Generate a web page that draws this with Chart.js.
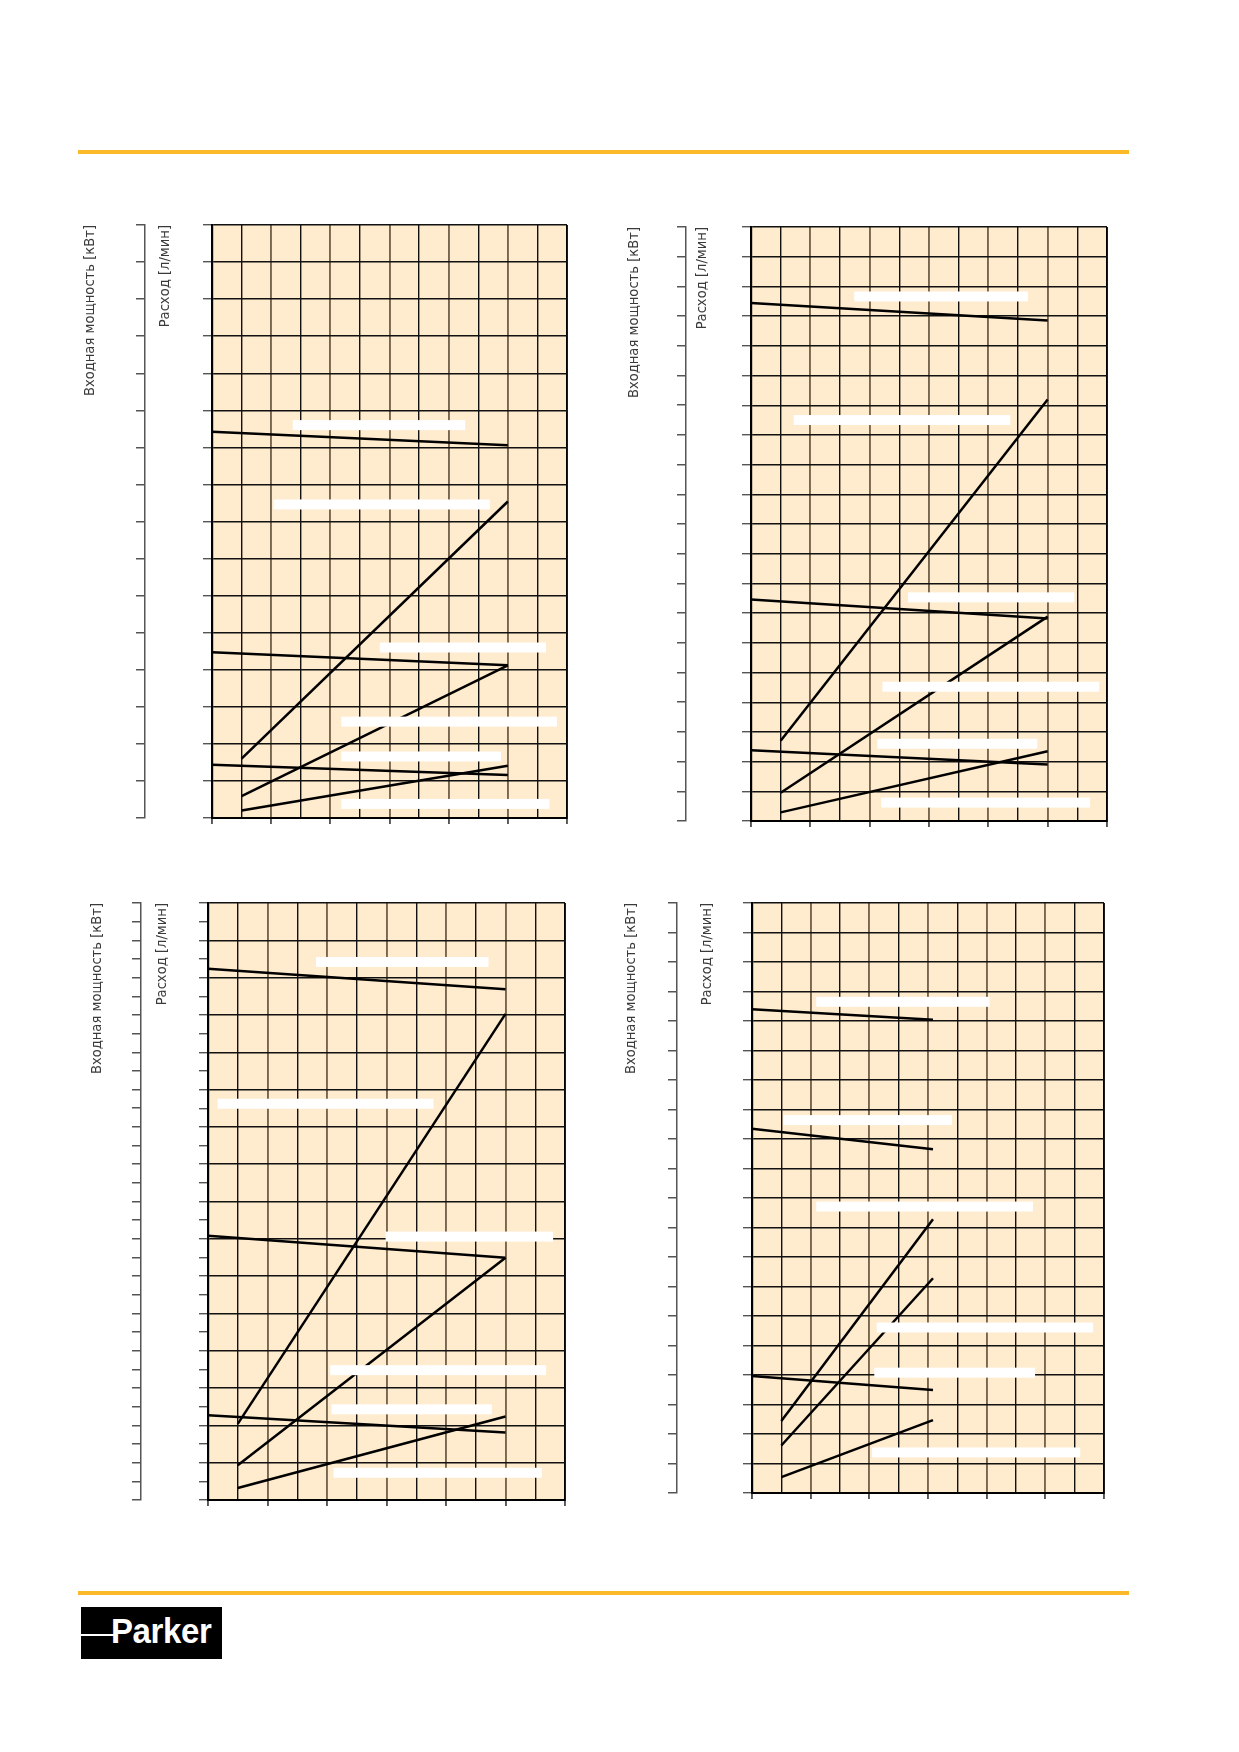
<!DOCTYPE html>
<html>
<head>
<meta charset="utf-8">
<script src="https://cdn.jsdelivr.net/npm/chart.js@4.4.1/dist/chart.umd.min.js"></script>
<style>
  html, body { margin: 0; padding: 0; background: #fff; }
  body { position: relative; width: 1239px; height: 1752px; overflow: hidden; }
  canvas { position: absolute; }
  .rule { position: absolute; left: 78px; width: 1051px; height: 4px; background: #fbb829; }
  #logo { position: absolute; left: 81px; top: 1607px; width: 141px; height: 52px; background: #000; overflow: hidden; }
  #logo-dash { position: absolute; left: 0; top: 27px; width: 34px; height: 2px; background: #fff; }
  #logo-word { position: absolute; left: 30px; top: 6px; color: #fff; font: bold 33px 'Liberation Sans', Arial, sans-serif; line-height: 38px; letter-spacing: -0.4px; transform: scaleY(1.05); transform-origin: 0 100%; }
</style>
</head>
<body>
<div class="rule" style="top:150px"></div>
<div class="rule" style="top:1591px"></div>

<canvas id="chartTL"></canvas>
<canvas id="chartTR"></canvas>
<canvas id="chartBL"></canvas>
<canvas id="chartBR"></canvas>

<div id="logo"><div id="logo-dash"></div><span id="logo-word">Parker</span></div>

<script>
// values are in grid units: x = column (0..12), y = row counted from the bottom
const powerTitle = 'Входная мощность [кВт]';
const flowTitle = 'Расход [л/мин]';
const xMax = 12;

// top left
const tlRows = 16;
const tlLines = [
  [[0, 10.42], [10, 10.06]],
  [[1, 1.6], [10, 8.54]],
  [[0, 4.47], [10, 4.12]],
  [[1, 0.59], [10, 4.12]],
  [[0, 1.44], [10, 1.16]],
  [[1, 0.2], [10, 1.41]]
];
// blanked label strips: x from, x to, y
const tlMasks = [
  [2.73, 8.56, 10.6],
  [2.08, 9.39, 8.46],
  [5.67, 11.29, 4.6],
  [4.37, 11.66, 2.6],
  [4.37, 9.77, 1.66],
  [4.37, 11.41, 0.38]
];

// top right
const trRows = 20;
const trLines = [
  [[0, 17.44], [10, 16.85]],
  [[1, 2.7], [10, 14.19]],
  [[0, 7.46], [10, 6.82]],
  [[1, 0.95], [10, 6.88]],
  [[0, 2.38], [10, 1.9]],
  [[1, 0.29], [10, 2.35]]
];
const trMasks = [
  [3.48, 9.34, 17.66],
  [1.44, 8.74, 13.5],
  [5.29, 10.9, 7.53],
  [4.43, 11.74, 4.52],
  [4.26, 9.65, 2.6],
  [4.39, 11.43, 0.62]
];

// bottom left
const blRows = 16;
const blLines = [
  [[0, 14.24], [10, 13.69]],
  [[1, 2.04], [10, 13.03]],
  [[0, 7.08], [10, 6.49]],
  [[1, 0.93], [10, 6.49]],
  [[0, 2.27], [10, 1.81]],
  [[1, 0.32], [10, 2.24]]
];
const blMasks = [
  [3.63, 9.43, 14.42],
  [0.32, 7.58, 10.62],
  [5.97, 11.6, 7.06],
  [4.11, 11.36, 3.48],
  [4.15, 9.54, 2.43],
  [4.22, 11.22, 0.73]
];

// bottom right
const brRows = 20;
const brLines = [
  [[0, 16.4], [6.17, 16.04]],
  [[0, 12.35], [6.17, 11.65]],
  [[1, 2.44], [6.17, 9.28]],
  [[1, 1.61], [6.17, 7.28]],
  [[0, 3.97], [6.17, 3.49]],
  [[1, 0.54], [6.17, 2.47]]
];
const brMasks = [
  [2.19, 8.1, 16.65],
  [1.07, 6.82, 12.64],
  [2.19, 9.58, 9.71],
  [4.25, 11.63, 5.61],
  [4.17, 9.65, 4.08],
  [4.09, 11.19, 1.375]
];

const FONT = "'Liberation Sans Narrow', 'DejaVu Sans Condensed', 'Liberation Sans', sans-serif";
const TITLE_SIZE = 14.6;

const paperPlugin = {
  id: 'paper',
  beforeDraw(chart) {
    const { ctx, chartArea: a } = chart;
    ctx.save();
    ctx.fillStyle = '#ffebcd';
    ctx.fillRect(a.left, a.top, a.right - a.left, a.bottom - a.top);
    ctx.restore();
  },
  afterDatasetsDraw(chart, args, opts) {
    const { ctx, scales: { x, y } } = chart;
    ctx.save();
    ctx.fillStyle = '#fff';
    opts.boxes.forEach(([x1, x2, yc]) => {
      const px1 = x.getPixelForValue(x1);
      const px2 = x.getPixelForValue(x2);
      const py = y.getPixelForValue(yc);
      ctx.fillRect(px1, py - 5, px2 - px1, 10);
    });
    ctx.restore();
  }
};

function makeChart(id, f, rows, tickStep, lines, masks) {
  const lh = TITLE_SIZE * 1.2;
  const left = f.powerTitleX - 30;
  const top = f.t - 10;
  const cv = document.getElementById(id);
  cv.width = f.r + 6 - left;
  cv.height = f.b + 20 - top;
  cv.style.left = left + 'px';
  cv.style.top = top + 'px';

  const w2 = f.powerX - left;
  const w1 = f.l - f.powerX;
  const isMajor = v => Math.abs(v - Math.round(v)) < 1e-6;
  const evenCol = c => c.tick && c.tick.value % 2 === 0;
  const titleFont = { family: FONT, size: TITLE_SIZE };

  return new Chart(cv, {
    type: 'scatter',
    data: {
      datasets: lines.map(pts => ({
        data: pts.map(([x, y]) => ({ x, y })),
        showLine: true,
        borderColor: '#000',
        borderWidth: 2.5,
        pointRadius: 0,
        pointHoverRadius: 0
      }))
    },
    options: {
      responsive: false,
      animation: false,
      devicePixelRatio: 1,
      events: [],
      layout: { autoPadding: false, padding: { left: 0, top: 10, right: 6, bottom: 0 } },
      plugins: {
        legend: { display: false },
        tooltip: { enabled: false },
        paper: { boxes: masks }
      },
      scales: {
        x: {
          type: 'linear', min: 0, max: xMax,
          ticks: { display: false, stepSize: 1, maxTicksLimit: 100 },
          grid: {
            color: c => c.tick && c.tick.value === xMax ? '#000' : (evenCol(c) ? '#76654f' : '#111'),
            lineWidth: c => evenCol(c) ? 1.9 : 1.4,
            tickLength: 6,
            tickColor: c => evenCol(c) ? '#555' : 'rgba(0,0,0,0)'
          },
          border: { color: '#000', width: 2 },
          afterFit: s => { s.height = 20; }
        },
        y: {
          type: 'linear', position: 'left', weight: 0, min: 0, max: rows,
          ticks: { display: false, stepSize: tickStep, maxTicksLimit: 100 },
          grid: {
            color: c => c.tick && isMajor(c.tick.value) ? '#111' : 'rgba(0,0,0,0)',
            lineWidth: 1.4,
            tickLength: 9,
            tickColor: '#555'
          },
          border: { color: '#000', width: 2.2 },
          title: {
            display: true, text: flowTitle, align: 'end', color: '#3a3a3a', font: titleFont,
            padding: { top: f.flowTitleX - f.powerX - lh / 2, bottom: 0 }
          },
          afterFit: s => { s.width = w1; }
        },
        y2: {
          type: 'linear', position: 'left', weight: 1, min: 0, max: rows,
          ticks: { display: false, stepSize: tickStep, maxTicksLimit: 100 },
          grid: { drawOnChartArea: false, tickLength: 9, tickColor: '#555', lineWidth: 1.5 },
          border: { color: '#555', width: 1.5 },
          title: {
            display: true, text: powerTitle, align: 'end', color: '#3a3a3a', font: titleFont,
            padding: { top: 30 - lh / 2, bottom: 0 }
          },
          afterFit: s => { s.width = w2; }
        }
      }
    },
    plugins: [paperPlugin]
  });
}

makeChart('chartTL', { l: 212, t: 225, r: 567, b: 818, powerX: 145, powerTitleX: 90, flowTitleX: 165 }, tlRows, 1, tlLines, tlMasks);
makeChart('chartTR', { l: 751, t: 227, r: 1107, b: 821, powerX: 686, powerTitleX: 634, flowTitleX: 702 }, trRows, 1, trLines, trMasks);
makeChart('chartBL', { l: 208, t: 903, r: 565, b: 1500, powerX: 141, powerTitleX: 97, flowTitleX: 162 }, blRows, 0.5, blLines, blMasks);
makeChart('chartBR', { l: 752, t: 903, r: 1104, b: 1493, powerX: 677, powerTitleX: 631, flowTitleX: 707 }, brRows, 1, brLines, brMasks);
</script>
</body>
</html>
